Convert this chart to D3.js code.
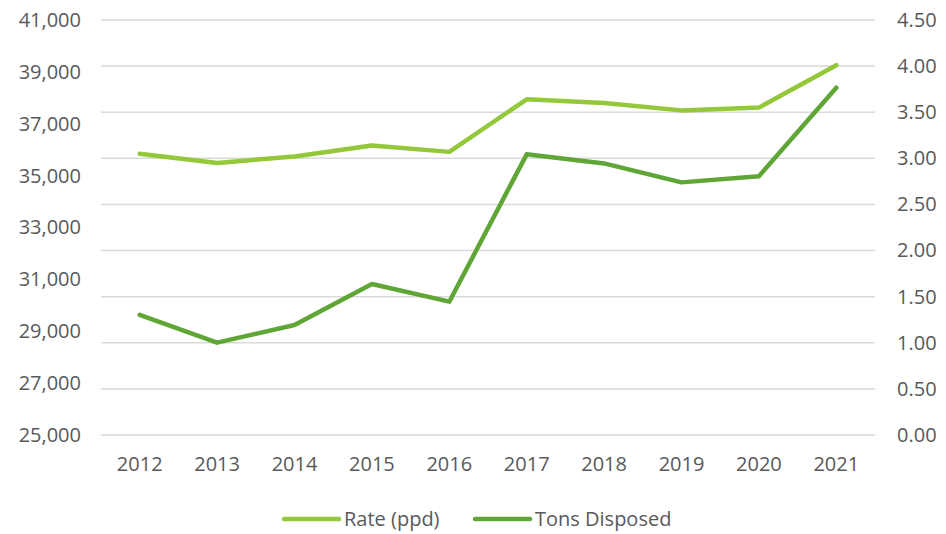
<!DOCTYPE html>
<html>
<head>
<meta charset="utf-8">
<script src="https://cdn.jsdelivr.net/npm/d3@7"></script>
<style>
  body { margin: 0; background: #fff; }
  text { font-family: "Open Sans", "Noto Sans", sans-serif; fill: #595959; }
</style>
</head>
<body>
<script>
const years = ["2012", "2013", "2014", "2015", "2016", "2017", "2018", "2019", "2020", "2021"];
const rate = [3.05, 2.95, 3.02, 3.14, 3.07, 3.64, 3.6, 3.52, 3.55, 4.01];
const tons = [29630, 28560, 29240, 30820, 30140, 35820, 35470, 34740, 34980, 38390];
const leftTicks = [25000, 27000, 29000, 31000, 33000, 35000, 37000, 39000, 41000];
const rightTicks = [0, 0.5, 1, 1.5, 2, 2.5, 3, 3.5, 4, 4.5];

const width = 946;
const height = 534;
const lightGreen = "#94c83a";
const darkGreen = "#5fa636";
const fontSize = "20px";

const svg = d3
  .select("body")
  .append("svg")
  .attr("width", width)
  .attr("height", height);

const x = d3.scaleBand().domain(years).range([101, 875]);
const yLeft = d3.scaleLinear().domain([25000, 41000]).range([435, 20]);
const yRight = d3.scaleLinear().domain([0, 4.5]).range([435, 20]);

// gridlines follow the right axis
svg
  .append("g")
  .selectAll("line")
  .data(rightTicks)
  .enter()
  .append("line")
  .attr("x1", 101)
  .attr("x2", 875)
  .attr("y1", (d) => yRight(d))
  .attr("y2", (d) => yRight(d))
  .attr("stroke", "#d9d9d9")
  .attr("stroke-width", 1.5);

const leftAxis = svg
  .append("g")
  .attr("transform", "translate(81,0)")
  .call(d3.axisLeft(yLeft).tickValues(leftTicks).tickFormat(d3.format(",")).tickSize(0).tickPadding(0));

const rightAxis = svg
  .append("g")
  .attr("transform", "translate(897,0)")
  .call(d3.axisRight(yRight).tickValues(rightTicks).tickFormat(d3.format(".2f")).tickSize(0).tickPadding(0));

const bottomAxis = svg
  .append("g")
  .attr("transform", "translate(0,457)")
  .call(d3.axisBottom(x).tickSize(0).tickPadding(0));

[leftAxis, rightAxis, bottomAxis].forEach((g) => {
  g.select(".domain").remove();
  g.selectAll("text").style("font-size", fontSize).attr("fill", "#595959");
});

const xc = (i) => x(years[i]) + x.bandwidth() / 2;

svg
  .append("path")
  .datum(rate)
  .attr("fill", "none")
  .attr("stroke", lightGreen)
  .attr("stroke-width", 4.5)
  .attr("stroke-linejoin", "round")
  .attr("stroke-linecap", "round")
  .attr("d", d3.line().x((d, i) => xc(i)).y((d) => yRight(d)));

svg
  .append("path")
  .datum(tons)
  .attr("fill", "none")
  .attr("stroke", darkGreen)
  .attr("stroke-width", 4.5)
  .attr("stroke-linejoin", "round")
  .attr("stroke-linecap", "round")
  .attr("d", d3.line().x((d, i) => xc(i)).y((d) => yLeft(d)));

// legend
const legend = [
  { name: "Rate (ppd)", color: lightGreen, x: 284 },
  { name: "Tons Disposed", color: darkGreen, x: 475 },
];

const lg = svg
  .append("g")
  .selectAll("g")
  .data(legend)
  .enter()
  .append("g")
  .attr("transform", (d) => `translate(${d.x},519)`);

lg.append("line")
  .attr("x1", 0)
  .attr("x2", 55)
  .attr("stroke", (d) => d.color)
  .attr("stroke-width", 4.5)
  .attr("stroke-linecap", "round");

lg.append("text")
  .attr("x", 60)
  .attr("dy", "0.35em")
  .style("font-size", fontSize)
  .text((d) => d.name);
</script>
</body>
</html>
